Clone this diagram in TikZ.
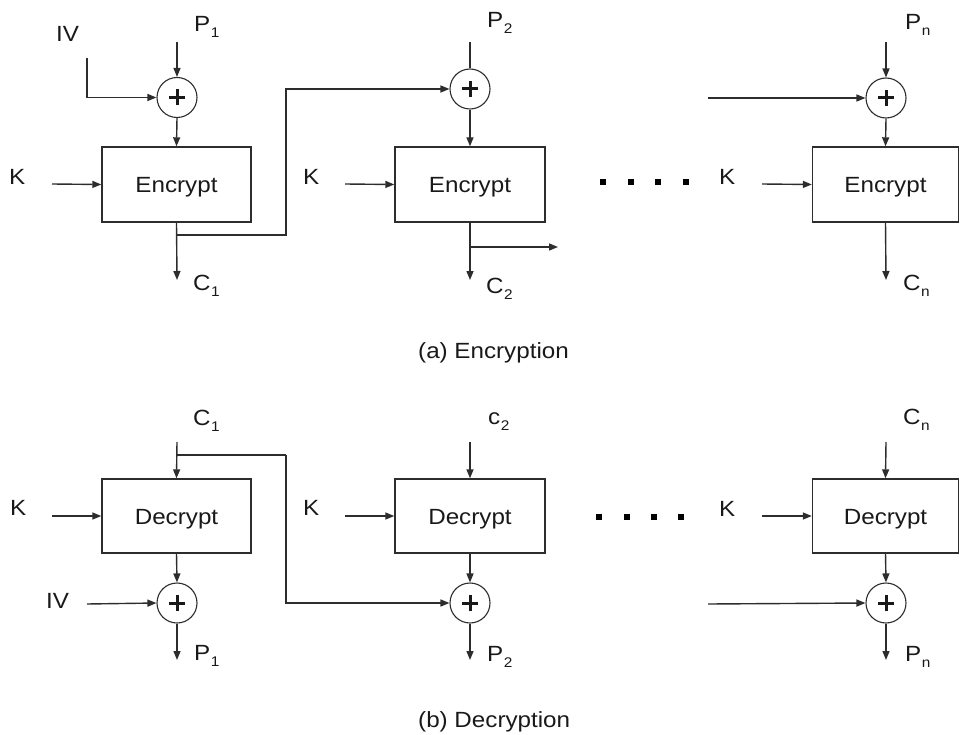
\documentclass[tikz,border=0pt]{standalone}
\usepackage{fontspec}
\setmainfont{Liberation Sans}[FakeStretch=1.1]
\usetikzlibrary{arrows.meta}
\definecolor{lc}{RGB}{45,45,45}
\definecolor{tc}{RGB}{25,25,25}
\newcommand{\lbl}[2]{#1\kern0.5pt\raisebox{-6pt}{\fontsize{14}{14}\selectfont #2}}
\newcommand{\plusin}[1]{\draw[plusln] ([xshift=-8pt]#1.center) -- ([xshift=8pt]#1.center) ([yshift=-8pt]#1.center) -- ([yshift=8pt]#1.center);}
\begin{document}
\begin{tikzpicture}[x=1pt,y=-1pt,
  every node/.style={text=tc,font=\fontsize{22}{24}\selectfont},
  cbox/.style={draw=lc,line width=1.4pt,rectangle,minimum height=75pt,text height=16pt,text depth=0pt,inner sep=0pt},
  xorc/.style={draw=lc,line width=1.1pt,circle,minimum size=40pt,inner sep=0pt},
  plusln/.style={draw=tc,line width=3pt},
  arr/.style={draw=lc,line width=1.4pt,-{Triangle[length=9pt,width=7pt]}},
  ln/.style={draw=lc,line width=1.4pt},
  txt/.style={anchor=base west,inner sep=0pt},
  dotsq/.style={fill=black,minimum size=6.5pt,inner sep=0pt,rectangle}]
\useasboundingbox (0,0) rectangle (960,735);

% ---------------- Encryption ----------------
\node[cbox,minimum width=149pt] (e1) at (176.5,184.5) {Encrypt};
\node[cbox,minimum width=150pt] (e2) at (470,184.5) {Encrypt};
\node[cbox,minimum width=146pt] (e3) at (885.5,184.5) {Encrypt};
\node[xorc] (x1) at (177,97.5) {};
\node[xorc] (x2) at (470,89) {};
\node[xorc] (x3) at (886,98) {};
\plusin{x1}\plusin{x2}\plusin{x3}

\node[txt] (p1) at (194,32) {\lbl{P}{1}};
\node[txt] (p2) at (487,28) {\lbl{P}{2}};
\node[txt] (pn) at (905,30) {\lbl{P}{n}};
\node[txt] (iv1) at (56,42) {IV};
\node[txt] (k1) at (9,185) {K};
\node[txt] (k2) at (303,185) {K};
\node[txt] (k3) at (719,185) {K};
\node[txt] (c1) at (193,290) {\lbl{C}{1}};
\node[txt] (c2) at (486,293) {\lbl{C}{2}};
\node[txt] (cn) at (903,290) {\lbl{C}{n}};

\coordinate (ep1) at (177,42);
\coordinate (ep2) at (470,42);
\coordinate (ep3) at (886,42);
\coordinate (eiv) at (87,58);
\coordinate (ek1) at (52,184);
\coordinate (ek2) at (345,184);
\coordinate (ek3) at (762,184);
\coordinate (ec1) at (177,280);
\coordinate (ec2) at (470,280);
\coordinate (ec3) at (886,280);
\coordinate (efb) at (177,235);
\coordinate (efbc) at (286,235);
\coordinate (ebr) at (470,247);
\coordinate (ebre) at (558,247);
\coordinate (ein3) at (708,98);

\draw[arr] (ep1) -- (x1.north);
\draw[arr] (eiv) |- (x1.west);
\draw[arr] (x1.south) -- (e1.north);
\draw[arr] (ek1) -- (e1.west);
\draw[arr] (e1.south) -- (ec1);
\draw[arr] (efb) -- (efbc) |- (x2.west);
\draw[ln] (ep2) -- (x2.north);
\draw[arr] (x2.south) -- (e2.north);
\draw[arr] (ek2) -- (e2.west);
\draw[arr] (e2.south) -- (ec2);
\draw[arr] (ebr) -- (ebre);
\draw[arr] (ep3) -- (x3.north);
\draw[arr] (ein3) -- (x3.west);
\draw[arr] (x3.south) -- (e3.north);
\draw[arr] (ek3) -- (e3.west);
\draw[arr] (e3.south) -- (ec3);

\node[dotsq] (ed1) at (603,182) {};
\node[dotsq] (ed2) at (631,182) {};
\node[dotsq] (ed3) at (658,182) {};
\node[dotsq] (ed4) at (686,182) {};

\node[txt] (capa) at (418,358) {(a) Encryption};

% ---------------- Decryption ----------------
\node[cbox,minimum width=149pt,minimum height=74pt] (d1) at (176.5,516) {Decrypt};
\node[cbox,minimum width=150pt,minimum height=74pt] (d2) at (470,516) {Decrypt};
\node[cbox,minimum width=146pt,minimum height=74pt] (d3) at (885.5,516) {Decrypt};
\node[xorc] (y1) at (177,603) {};
\node[xorc] (y2) at (470,603) {};
\node[xorc] (y3) at (886,603) {};
\plusin{y1}\plusin{y2}\plusin{y3}

\node[txt] (dc1) at (193,425) {\lbl{C}{1}};
\node[txt] (dc2) at (488,424) {\lbl{c}{2}};
\node[txt] (dcn) at (903,424) {\lbl{C}{n}};
\node[txt] (dk1) at (10,515) {K};
\node[txt] (dk2) at (303,515) {K};
\node[txt] (dk3) at (719,516) {K};
\node[txt] (div) at (46,608) {IV};
\node[txt] (dp1) at (194,660) {\lbl{P}{1}};
\node[txt] (dp2) at (487,661) {\lbl{P}{2}};
\node[txt] (dpn) at (905,661) {\lbl{P}{n}};

\coordinate (dc1s) at (177,442);
\coordinate (dc2s) at (470,442);
\coordinate (dc3s) at (886,442);
\coordinate (dfb) at (177,455);
\coordinate (dfbc) at (286,455);
\coordinate (div1) at (87,604);
\coordinate (dk1s) at (52,516);
\coordinate (dk2s) at (345,516);
\coordinate (dk3s) at (762,516);
\coordinate (din3) at (708,604);
\coordinate (dp1e) at (177,660);
\coordinate (dp2e) at (470,660);
\coordinate (dp3e) at (886,660);

\draw[arr] (dc1s) -- (d1.north);
\draw[ln] (dfb) -- (dfbc);
\draw[arr] (dfbc) |- (y2.west);
\draw[arr] (d1.south) -- (y1.north);
\draw[arr] (div1) -- (y1.west);
\draw[arr] (y1.south) -- (dp1e);
\draw[arr] (dk1s) -- (d1.west);
\draw[arr] (dc2s) -- (d2.north);
\draw[arr] (d2.south) -- (y2.north);
\draw[arr] (y2.south) -- (dp2e);
\draw[arr] (dk2s) -- (d2.west);
\draw[arr] (dc3s) -- (d3.north);
\draw[arr] (d3.south) -- (y3.north);
\draw[arr] (din3) -- (y3.west);
\draw[arr] (y3.south) -- (dp3e);
\draw[arr] (dk3s) -- (d3.west);

\node[dotsq] (dd1) at (599,517) {};
\node[dotsq] (dd2) at (627,517) {};
\node[dotsq] (dd3) at (654,517) {};
\node[dotsq] (dd4) at (681,517) {};

\node[txt] (capb) at (418,727) {(b) Decryption};
\end{tikzpicture}
\end{document}
